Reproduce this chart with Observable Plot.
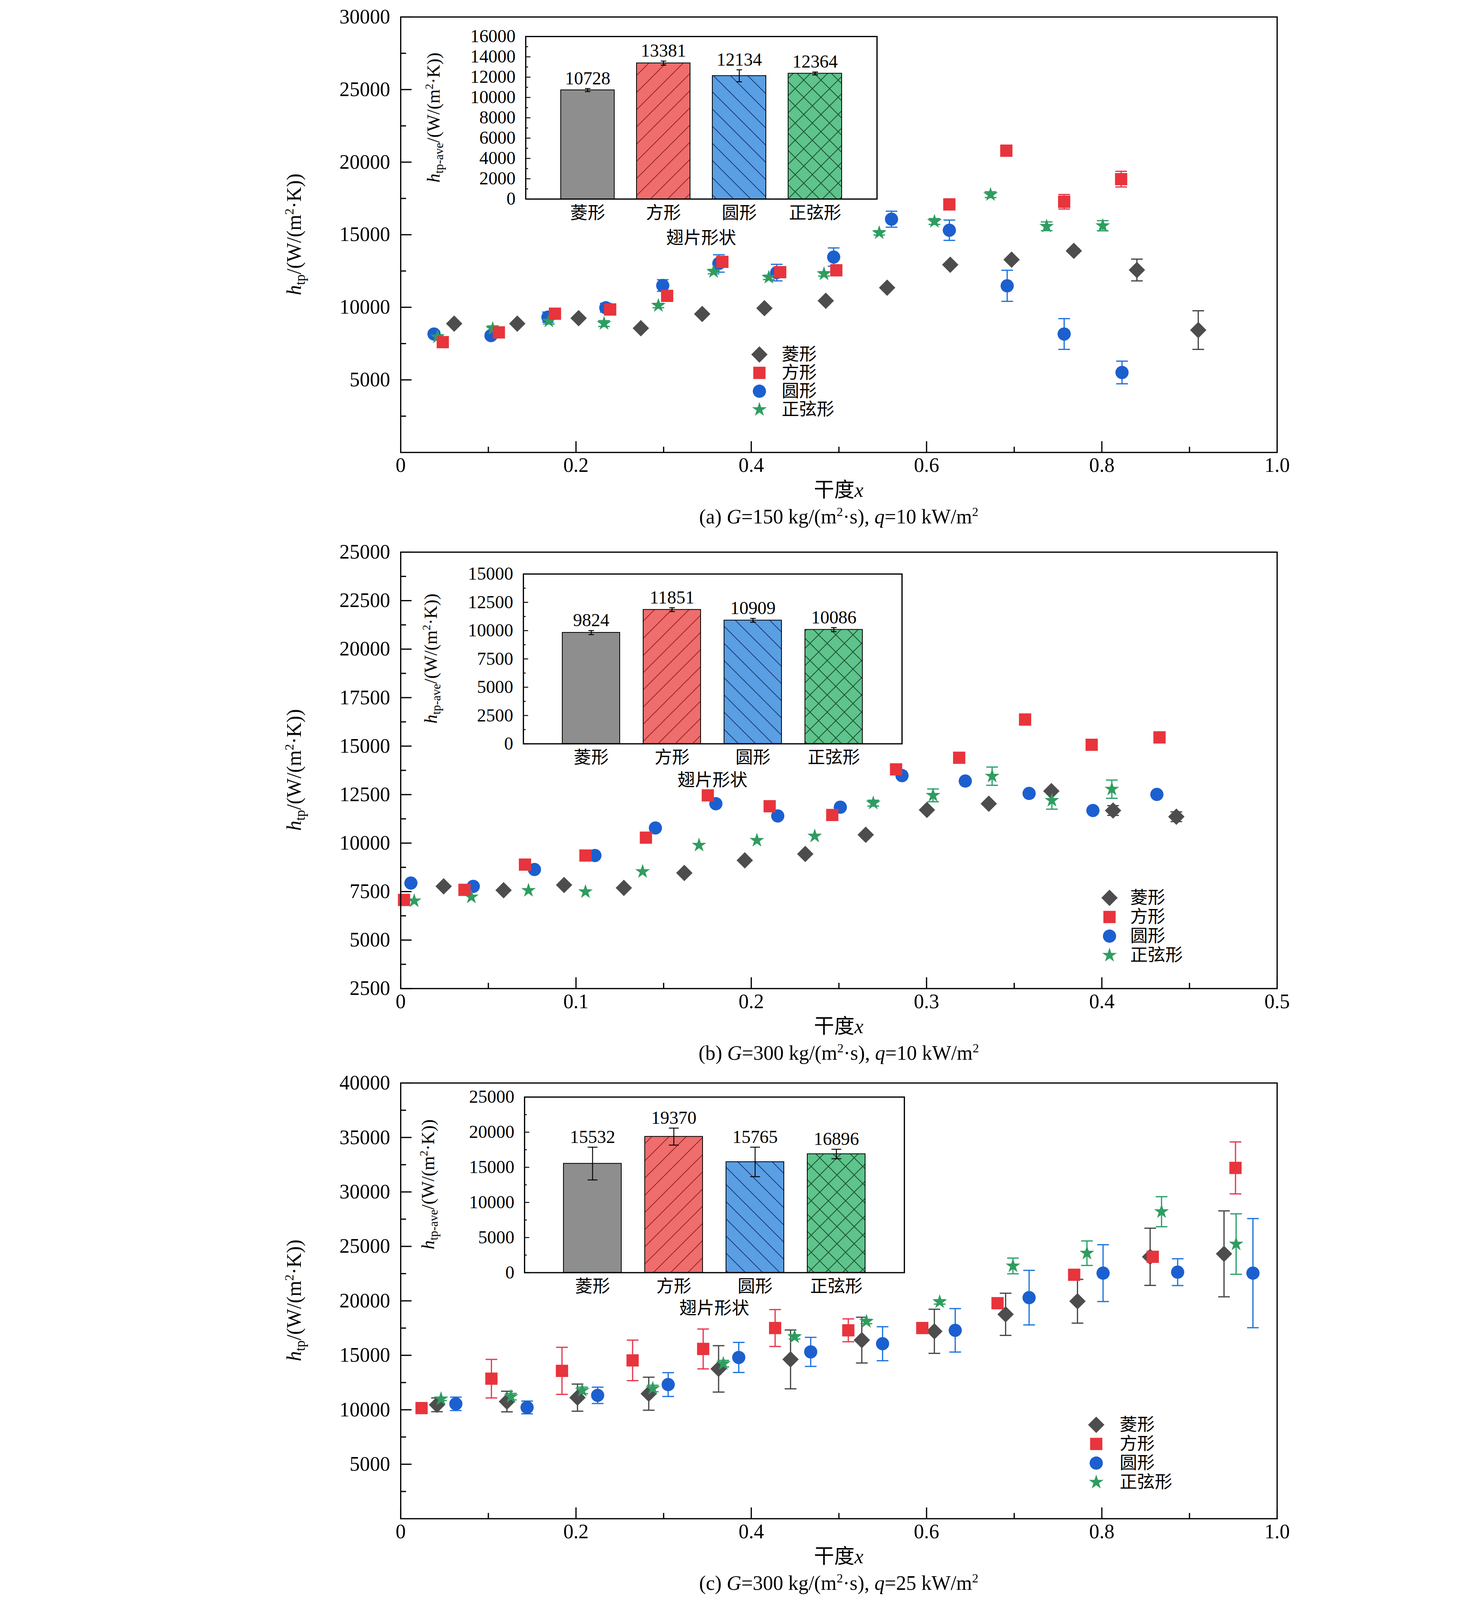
<!DOCTYPE html>
<html><head><meta charset="utf-8">
<script src="https://cdn.jsdelivr.net/npm/d3@7"></script>
<script src="https://cdn.jsdelivr.net/npm/@observablehq/plot@0.6"></script>
<style>
html,body{margin:0;padding:0;background:#fff;overflow:hidden;}
#page{position:relative;width:3780px;overflow:hidden;background:#fff;font-family:"Liberation Serif","Noto Sans CJK SC",serif;color:#000;}
#page svg{position:absolute;overflow:visible;}
.lbl{position:absolute;white-space:nowrap;line-height:1;font-family:"Liberation Serif","Noto Sans CJK SC",serif;}
.lbl sub{font-size:0.68em;vertical-align:-0.28em;line-height:0;}
.lbl sup{font-size:0.62em;vertical-align:0.6em;line-height:0;}
</style></head>
<body><div id="page"></div>
<script>
// ---------------- data ----------------
const shapes = ["菱形", "方形", "圆形", "正弦形"];

// (a) G=150 kg/(m2 s), q=10 kW/m2
const a_dia_x = [0.061,0.133,0.203,0.274,0.344,0.415,0.485,0.555,0.627,0.697,0.768,0.840,0.910];
const a_dia_y = [8875,8875,9250,8560,9540,9940,10450,11350,12930,13280,13890,12570,8430];
const a_dia_e = [0,0,0,0,0,0,0,0,0,0,150,750,1330];
const a_sq_x = [0.048,0.112,0.176,0.239,0.304,0.367,0.433,0.497,0.626,0.691,0.757,0.822];
const a_sq_y = [7600,8270,9560,9850,10790,13130,12420,12550,17090,20790,17270,18830];
const a_sq_e = [150,200,200,200,200,250,200,150,250,200,500,540];
const a_ci_x = [0.038,0.103,0.168,0.234,0.299,0.363,0.429,0.494,0.560,0.626,0.692,0.757,0.823];
const a_ci_y = [8160,8050,9320,9970,11500,13020,12390,13460,16070,15310,11480,8160,5510];
const a_ci_e = [200,200,350,300,400,600,570,630,550,700,1070,1060,780];
const a_st_x = [0.042,0.105,0.169,0.232,0.294,0.357,0.420,0.483,0.546,0.609,0.673,0.737,0.801];
const a_st_y = [7960,8520,9050,8880,10120,12460,12060,12300,15130,15910,17760,15580,15620];
const a_st_e = [150,200,200,200,150,150,150,150,150,200,200,300,350];
const a_ave = [10728,13381,12134,12364];
const a_ave_e = [150,200,590,140];

// (b) G=300, q=10
const b_dia_x = [0.0245,0.0587,0.0932,0.1273,0.1618,0.1963,0.2308,0.2653,0.3002,0.3355,0.3712,0.4064,0.4425];
const b_dia_y = [7770,7570,7840,7690,8460,9110,9440,10430,11710,12030,12680,11680,11360];
const b_dia_e = [0,0,0,0,0,0,0,0,0,0,0,250,250];
const b_sq_x = [0.0019,0.0364,0.0709,0.1054,0.1399,0.1752,0.2105,0.2462,0.2826,0.3186,0.3562,0.3942,0.4329];
const b_sq_y = [7070,7590,8890,9360,10280,12460,11900,11450,13800,14400,16370,15070,15450];
const b_sq_e = [0,0,0,0,0,0,0,0,0,0,0,0,0];
const b_ci_x = [0.0058,0.0414,0.0763,0.1108,0.1453,0.1798,0.2151,0.2508,0.2860,0.3221,0.3585,0.3949,0.4314];
const b_ci_y = [7940,7770,8640,9360,10780,12030,11400,11850,13480,13200,12560,11680,12510];
const b_ci_e = [0,0,0,0,0,0,0,0,0,0,0,0,0];
const b_st_x = [0.0077,0.0403,0.0729,0.1054,0.1380,0.1702,0.2032,0.2362,0.2696,0.3037,0.3374,0.3715,0.4057];
const b_st_y = [7020,7220,7560,7490,8530,9890,10140,10360,12060,12460,13450,12200,12780];
const b_st_e = [0,0,0,0,0,0,0,0,150,330,470,450,470];
const b_ave = [9824,11851,10909,10086];
const b_ave_e = [180,170,170,180];

// (c) G=300, q=25
const c_dia_x = [0.0414,0.1212,0.2017,0.2830,0.3627,0.4448,0.5261,0.6089,0.6902,0.7722,0.8551,0.9394];
const c_dia_y = [10455,10755,11115,11475,13755,14625,16395,17205,18765,19965,24045,24315];
const c_dia_e = [630,945,1245,1515,2130,2700,2100,2025,1935,2010,2625,3945];
const c_sq_x = [0.0238,0.1035,0.1840,0.2646,0.3451,0.4272,0.5107,0.5951,0.6810,0.7684,0.8581,0.9525];
const c_sq_y = [10155,12855,13575,14535,15585,17505,17295,17505,19785,22395,24045,32205];
const c_sq_e = [300,1770,2160,1860,1830,1695,1050,300,300,300,400,2385];
const c_ci_x = [0.0629,0.1442,0.2247,0.3052,0.3857,0.4678,0.5498,0.6327,0.7170,0.8014,0.8865,0.9724];
const c_ci_y = [10545,10215,11325,12315,14805,15315,16065,17295,20295,22545,22635,22545];
const c_ci_e = [615,585,750,1095,1380,1335,1560,1995,2505,2610,1230,5010];
const c_st_x = [0.0460,0.1258,0.2071,0.2876,0.3681,0.4494,0.5314,0.6150,0.6986,0.7830,0.8681,0.9532];
const c_st_y = [10995,11205,11775,11955,14235,16695,18105,19905,23205,24375,28185,25215];
const c_st_e = [150,300,300,300,300,200,200,200,720,1125,1380,2775];
const c_ave = [15532,19370,15765,16896];
const c_ave_e = [2330,1210,2100,675];

// ticks
const xTicksFull = [0,0.2,0.4,0.6,0.8,1.0];
const xMinorFull = [0.1,0.3,0.5,0.7,0.9];
const xTicksHalf = [0,0.1,0.2,0.3,0.4,0.5];
const xMinorHalf = [0.05,0.15,0.25,0.35,0.45];
const yTicksA = [5000,10000,15000,20000,25000,30000];
const yMinorA = [2500,7500,12500,17500,22500,27500];
const yTicksB = [2500,5000,7500,10000,12500,15000,17500,20000,22500,25000];
const yMinorB = [3750,6250,8750,11250,13750,16250,18750,21250,23750];
const yTicksC = [5000,10000,15000,20000,25000,30000,35000,40000];
const yMinorC = [2500,7500,12500,17500,22500,27500,32500,37500];
const insTicksA = [0,2000,4000,6000,8000,10000,12000,14000,16000];
const insMinorA = [1000,3000,5000,7000,9000,11000,13000,15000];
const insTicksB = [0,2500,5000,7500,10000,12500,15000];
const insMinorB = [1250,3750,6250,8750,11250,13750];
const insTicksC = [0,5000,10000,15000,20000,25000];
const insMinorC = [2500,7500,12500,17500,22500];

// ---------------- layout & styles ----------------
const REF_H = 6573;
const WIN_H = window.innerHeight || REF_H;
const FIT = WIN_H < REF_H;
const OFF = FIT ? 16 : 0;                                   // top/bottom breathing room when fitted
const SY = FIT ? (WIN_H - 2 * OFF) / REF_H : 1;             // vertical fit into the window
const FS = Math.sqrt(SY);                                    // font / marker scale
const Y = v => OFF + v * SY;                                 // absolute vertical position
const D = v => v * SY;                                       // vertical distance
const FONT = '"Liberation Serif","Noto Sans CJK SC",serif';
const markFill = ["#4d4d4d", "#e8343c", "#1c5fcf", "#2f9d5f"];
const errStroke = ["#474747", "#e8364e", "#1f74dc", "#2aa06b"];
const symbols = [d3.symbolDiamond2, d3.symbolSquare, d3.symbolCircle, d3.symbolStar];
const symR = [24, 22.5, 21.5, 15].map(r => r * FS);
const cap = w => ({draw(ctx) { ctx.moveTo(-w / 2, 0); ctx.lineTo(w / 2, 0); }});
const page = document.getElementById("page");
page.style.height = (FIT ? WIN_H : REF_H) + "px";
const fmtX = d => d === 0 ? "0" : d.toFixed(1);
const F_MAIN = 66 * FS;
const F_INS = Math.min(63 * FS, D(673 / 8) / 1.12);          // inset tick labels fit their spacing
const F_CJK = Math.min(64 * FS, D(81) / 1.12);               // inset category text
const LEG_SP_A = FIT ? 103 : 94;                             // legend row spacing of panel (a)
const F_LEG = Math.min(64 * FS, D(LEG_SP_A) / 1.42);         // legend text
const SW = 4 * FS;

function place(el, left, top) { el.style.left = left + "px"; el.style.top = top + "px"; page.appendChild(el); }
function label(htmlText, cx, cy, size, rotate) {
  const d = document.createElement("div");
  d.className = "lbl"; d.innerHTML = htmlText; d.style.fontSize = size + "px";
  d.style.left = cx + "px"; d.style.top = cy + "px";
  d.style.transform = "translate(-50%,-50%)" + (rotate ? " rotate(-90deg)" : "");
  page.appendChild(d);
}

function mainPanel(p) {
  const L = 1025, R = 3268, mt = 40, mb = 160;
  const top = Y(p.top), bottom = Y(p.bottom), h = bottom - top;
  const T = 36 * FS, t = 18 * FS;
  const marks = [
    Plot.axisY({ticks: p.yMinor, tickSize: -t, tickFormat: () => "", strokeWidth: SW, label: null}),
    Plot.axisY({ticks: p.yMajor, tickSize: -T, tickPadding: T + 27, tickFormat: d => String(d), strokeWidth: SW, fontSize: F_MAIN, label: null}),
    Plot.axisX({ticks: p.xMinor, tickSize: -t, tickFormat: () => "", strokeWidth: SW, label: null}),
    Plot.axisX({ticks: p.xMajor, tickSize: -T, tickPadding: T + Math.max(6, D(53) - 0.38 * F_MAIN), tickFormat: fmtX, strokeWidth: SW, fontSize: F_MAIN, label: null})
  ];
  const order = [0, 2, 3, 1];
  order.forEach(k => {
    const s = p.series[k];
    const rows = s.x.map((x, i) => ({x, y: s.y[i], e: s.e[i]})).filter(d => d.e > 0);
    marks.push(Plot.ruleX(rows, {x: "x", y1: d => d.y - d.e, y2: d => d.y + d.e, stroke: errStroke[k], strokeWidth: SW}));
    marks.push(Plot.dot(rows, {x: "x", y: d => d.y - d.e, symbol: cap(38 * FS), r: 5, fill: "none", stroke: errStroke[k], strokeWidth: SW}));
    marks.push(Plot.dot(rows, {x: "x", y: d => d.y + d.e, symbol: cap(38 * FS), r: 5, fill: "none", stroke: errStroke[k], strokeWidth: SW}));
  });
  order.forEach(k => {
    const s = p.series[k];
    const rows = s.x.map((x, i) => ({x, y: s.y[i]}));
    marks.push(Plot.dot(rows, {x: "x", y: "y", symbol: symbols[k], r: symR[k], fill: markFill[k], stroke: "none"}));
  });
  marks.push(Plot.frame({stroke: "#000", strokeWidth: SW}));
  const svg = Plot.plot({
    width: 3780, height: mt + h + mb, marginLeft: L, marginRight: 3780 - R, marginTop: mt, marginBottom: mb,
    x: {domain: p.xDomain}, y: {domain: p.yDomain},
    style: {fontFamily: FONT, fontSize: F_MAIN + "px", color: "#000", background: "none", overflow: "visible"},
    marks
  });
  place(svg, 0, top - mt);
  label('<i>h</i><sub>tp</sub>/(W/(m<sup>2</sup>·K))', 753, (top + bottom) / 2, F_MAIN, true);
  label('干度<i>x</i>', (L + R) / 2, bottom + D(158), F_MAIN, false);
  label(p.caption, (L + R) / 2, bottom + D(268), F_MAIN, false);
}

function addPatterns(svg, id) {
  const defs = d3.select(svg).insert("defs", ":first-child");
  const S = 44;
  const mk = (suffix, base, line, d) => {
    const pt = defs.append("pattern").attr("id", id + suffix).attr("patternUnits", "userSpaceOnUse").attr("width", S).attr("height", S);
    pt.append("rect").attr("width", S).attr("height", S).attr("fill", base);
    pt.append("path").attr("d", d).attr("stroke", line).attr("stroke-width", 2).attr("fill", "none");
  };
  const fwd = `M${-S/4},${S/4}L${S/4},${-S/4}M0,${S}L${S},0M${S*3/4},${S*5/4}L${S*5/4},${S*3/4}`;
  const bwd = `M${-S/4},${S*3/4}L${S/4},${S*5/4}M0,0L${S},${S}M${S*3/4},${-S/4}L${S*5/4},${S/4}`;
  mk("-1", "#ef6d6d", "#9a2626", fwd);
  mk("-2", "#5a9fe3", "#1e3c7c", bwd);
  mk("-3", "#5ec48b", "#1d5236", fwd + bwd);
}

function insetPanel(q) {
  const ml = 300, mr = 20, mt = 20, mb = 130;
  const top = Y(q.top), bottom = Y(q.bottom);
  const w = q.right - q.left, h = bottom - top;
  const rows = shapes.map((s, i) => ({shape: s, m: q.means[i], e: q.errs[i]}));
  const fills = ["#8e8e8e", `url(#${q.id}-1)`, `url(#${q.id}-2)`, `url(#${q.id}-3)`];
  const T = 16 * FS;
  const marks = [
    ...shapes.map((s, i) => Plot.barY(rows, {filter: d => d.shape === s, x: "shape", y: "m", fill: fills[i], stroke: "#000", strokeWidth: 2})),
    Plot.ruleX(rows, {x: "shape", y1: d => d.m - d.e, y2: d => d.m + d.e, stroke: "#000", strokeWidth: 3 * FS}),
    Plot.dot(rows, {x: "shape", y: d => d.m - d.e, symbol: cap(q.capW * FS), r: 5, fill: "none", stroke: "#000", strokeWidth: 3 * FS}),
    Plot.dot(rows, {x: "shape", y: d => d.m + d.e, symbol: cap(q.capW * FS), r: 5, fill: "none", stroke: "#000", strokeWidth: 3 * FS}),
    Plot.text(rows, {x: "shape", y: d => d.m + d.e, text: d => String(d.m), lineAnchor: "bottom", dy: -14 * FS, fontSize: F_INS}),
    Plot.axisY({ticks: q.minor, tickSize: -T / 2, tickFormat: () => "", strokeWidth: 3 * FS, label: null}),
    Plot.axisY({ticks: q.major, tickSize: -T, tickPadding: T + 26, tickFormat: d => String(d), strokeWidth: 3 * FS, fontSize: F_INS, label: null}),
    Plot.axisX({tickSize: 0, tickPadding: Math.max(4, D(60) - 0.33 * F_CJK - 4), fontSize: F_CJK, label: null}),
    Plot.frame({stroke: "#000", strokeWidth: SW})
  ];
  const svg = Plot.plot({
    width: w + ml + mr, height: h + mt + mb, marginLeft: ml, marginRight: mr, marginTop: mt, marginBottom: mb,
    x: {domain: shapes, paddingInner: q.pi, paddingOuter: q.po}, y: {domain: [0, q.yMax]},
    style: {fontFamily: FONT, fontSize: F_CJK + "px", color: "#000", background: "none", overflow: "visible"},
    marks
  });
  addPatterns(svg, q.id);
  place(svg, q.left - ml, top - mt);
  label('<i>h</i><sub>tp-ave</sub>/(W/(m<sup>2</sup>·K))', q.titleX, (top + bottom) / 2, F_INS, true);
  label('翅片形状', (q.left + q.right) / 2, Y(q.catTitleY) + 4, F_CJK, false);
}

function legendPanel(g) {
  const pad = 40, lx = 40, sp = D(g.sp);
  const svg = Plot.plot({
    width: 560, height: 2 * pad + 3 * sp, margin: 0,
    y: {type: "point", domain: shapes, range: [pad, pad + 3 * sp], axis: null},
    style: {fontFamily: FONT, fontSize: F_LEG + "px", color: "#000", background: "none", overflow: "visible"},
    marks: [
      ...shapes.map((s, k) => Plot.dot([s], {y: d => d, frameAnchor: "left", dx: lx, symbol: symbols[k], r: symR[k], fill: markFill[k], stroke: "none"})),
      Plot.text(shapes, {y: d => d, frameAnchor: "left", dx: lx + g.gap, text: d => d, textAnchor: "start", lineAnchor: "middle", fontSize: F_LEG})
    ]
  });
  place(svg, g.x - lx, Y(g.y0) - pad);
}

// ---------------- panels ----------------
mainPanel({top: 43, bottom: 1846, xDomain: [0, 1], yDomain: [0, 30000], xMajor: xTicksFull, xMinor: xMinorFull, yMajor: yTicksA, yMinor: yMinorA,
  series: [{x: a_dia_x, y: a_dia_y, e: a_dia_e}, {x: a_sq_x, y: a_sq_y, e: a_sq_e}, {x: a_ci_x, y: a_ci_y, e: a_ci_e}, {x: a_st_x, y: a_st_y, e: a_st_e}],
  caption: '(a) <i>G</i>=150 kg/(m<sup>2</sup>·s), <i>q</i>=10 kW/m<sup>2</sup>'});
mainPanel({top: 2259, bottom: 4066, xDomain: [0, 0.5], yDomain: [2500, 25000], xMajor: xTicksHalf, xMinor: xMinorHalf, yMajor: yTicksB, yMinor: yMinorB,
  series: [{x: b_dia_x, y: b_dia_y, e: b_dia_e}, {x: b_sq_x, y: b_sq_y, e: b_sq_e}, {x: b_ci_x, y: b_ci_y, e: b_ci_e}, {x: b_st_x, y: b_st_y, e: b_st_e}],
  caption: '(b) <i>G</i>=300 kg/(m<sup>2</sup>·s), <i>q</i>=10 kW/m<sup>2</sup>'});
mainPanel({top: 4457, bottom: 6261, xDomain: [0, 1], yDomain: [0, 40000], xMajor: xTicksFull, xMinor: xMinorFull, yMajor: yTicksC, yMinor: yMinorC,
  series: [{x: c_dia_x, y: c_dia_y, e: c_dia_e}, {x: c_sq_x, y: c_sq_y, e: c_sq_e}, {x: c_ci_x, y: c_ci_y, e: c_ci_e}, {x: c_st_x, y: c_st_y, e: c_st_e}],
  caption: '(c) <i>G</i>=300 kg/(m<sup>2</sup>·s), <i>q</i>=25 kW/m<sup>2</sup>'});

insetPanel({id: "pa", left: 1345, right: 2244, top: 124, bottom: 797, yMax: 16000, major: insTicksA, minor: insMinorA, means: a_ave, errs: a_ave_e, pi: 0.294, po: 0.464, capW: 18, titleX: 1110, catTitleY: 953});
insetPanel({id: "pb", left: 1339, right: 2308, top: 2350, bottom: 3053, yMax: 15000, major: insTicksB, minor: insMinorB, means: b_ave, errs: b_ave_e, pi: 0.288, po: 0.474, capW: 18, titleX: 1103, catTitleY: 3198});
insetPanel({id: "pc", left: 1342, right: 2314, top: 4515, bottom: 5242, yMax: 25000, major: insTicksC, minor: insMinorC, means: c_ave, errs: c_ave_e, pi: 0.287, po: 0.469, capW: 32, titleX: 1096, catTitleY: 5384});

legendPanel({x: 1943, y0: 1400, sp: LEG_SP_A, gap: 57});
legendPanel({x: 2839, y0: 3649, sp: 107, gap: 53});
legendPanel({x: 2805, y0: 5832, sp: 106, gap: 60});
</script></body></html>
